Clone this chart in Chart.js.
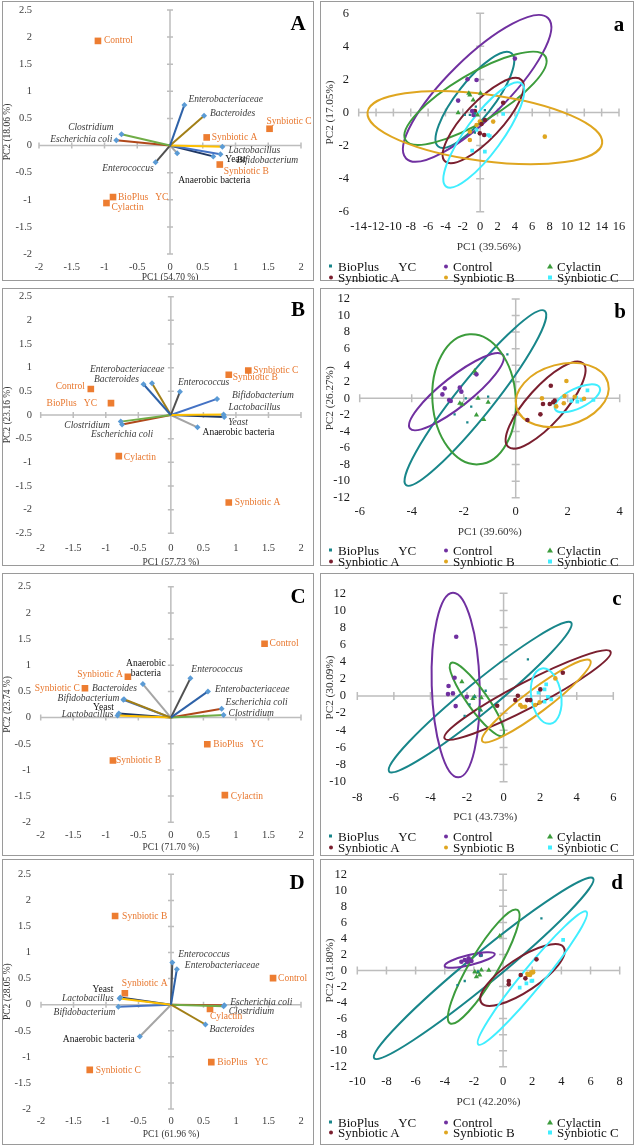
<!DOCTYPE html>
<html>
<head>
<meta charset="utf-8">
<script src="https://cdn.jsdelivr.net/npm/chart.js@4.4.1/dist/chart.umd.min.js"></script>
<style>
  body { margin: 0; background: #fff; }
  #page { position: relative; width: 636px; height: 1147px; overflow: hidden; font-family: "Liberation Serif", serif; }
  canvas, .frame, .tag, .leg { position: absolute; }
  .frame { border: 1px solid #9a9a9a; box-sizing: border-box; pointer-events: none; }
  .tag { font-weight: bold; font-size: 21px; line-height: 1; transform: translate(-50%, -50%); }
  .leg { font-size: 13px; line-height: 1; white-space: pre; transform: translateY(-50%); color: #111; }
  .mk { position: absolute; top: 50%; }
</style>
</head>
<body>
<div id="page"></div>
<script>
// loading variables and treatments
const variables = ["Enterobacteriaceae", "Bacteroides", "Clostridium", "Escherichia coli", "Enterococcus",
  "Lactobacillus", "Bifidobacterium", "Yeast", "Anaerobic bacteria"];
const treatments = ["Control", "BioPlus   YC", "Cylactin", "Synbiotic A", "Synbiotic B", "Synbiotic C"];
const groups = ["BioPlus      YC", "Control", "Cylactin", "Synbiotic A", "Synbiotic B", "Synbiotic C"];

// biplot tick labels
const biplotX = [-2, -1.5, -1, -0.5, 0, 0.5, 1, 1.5, 2];
const biplotY = [-2, -1.5, -1, -0.5, 0, 0.5, 1, 1.5, 2, 2.5];
const biplotYB = [-2.5, -2, -1.5, -1, -0.5, 0, 0.5, 1, 1.5, 2, 2.5];

// loadings (PC1, PC2) in variable order
const loadingsA = [[0.22, 0.75], [0.52, 0.55], [-0.74, 0.21], [-0.82, 0.10], [-0.22, -0.31], [0.80, -0.02], [0.77, -0.16], [0.66, -0.20], [0.11, -0.14]];
const loadingsB = [[-0.42, 0.65], [-0.29, 0.67], [-0.77, -0.14], [-0.75, -0.20], [0.14, 0.49], [0.81, 0.01], [0.71, 0.34], [0.82, -0.04], [0.41, -0.26]];
const loadingsC = [[0.57, 0.50], [-0.72, 0.35], [0.81, 0.05], [0.78, 0.17], [0.30, 0.75], [-0.82, 0.04], [-0.73, 0.34], [-0.80, 0.08], [-0.43, 0.64]];
const loadingsD = [[0.09, 0.68], [0.53, -0.38], [0.81, -0.03], [0.82, -0.01], [0.02, 0.81], [-0.79, 0.12], [-0.81, -0.04], [-0.78, 0.14], [-0.48, -0.61]];

// treatment scores in treatment order
const scoresA = [[-1.10, 1.93], [-0.87, -0.95], [-0.97, -1.06], [0.56, 0.15], [0.76, -0.35], [1.52, 0.31]];
const scoresB = [[-1.23, 0.55], [-0.92, 0.25], [-0.80, -0.87], [0.89, -1.85], [0.89, 0.85], [1.19, 0.94]];
const scoresC = [[1.44, 1.41], [0.56, -0.51], [0.83, -1.48], [-0.66, 0.78], [-0.89, -0.82], [-1.32, 0.56]];
const scoresD = [[1.57, 0.51], [0.62, -1.10], [0.60, -0.08], [-0.71, 0.22], [-0.86, 1.70], [-1.25, -1.25]];

// score plot tick labels
const ticksXa = [-14, -12, -10, -8, -6, -4, -2, 0, 2, 4, 6, 8, 10, 12, 14, 16];
const ticksYa = [-6, -4, -2, 0, 2, 4, 6];
const ticksXb = [-6, -4, -2, 0, 2, 4];
const ticksYb = [-12, -10, -8, -6, -4, -2, 0, 2, 4, 6, 8, 10, 12];
const ticksXc = [-8, -6, -4, -2, 0, 2, 4, 6];
const ticksYc = [-10, -8, -6, -4, -2, 0, 2, 4, 6, 8, 10, 12];
const ticksXd = [-10, -8, -6, -4, -2, 0, 2, 4, 6, 8];
const ticksYd = [-12, -10, -8, -6, -4, -2, 0, 2, 4, 6, 8, 10, 12];

// sample points per group (group order)
const pointsA = [
  [[-0.61, -0.05], [-1.77, -0.15], [-0.5, 0.35], [-1.19, -0.15], [0.54, 0.15], [-0.61, -1.22]],
  [[-1.46, 2.01], [-0.42, 1.97], [-2.54, 0.72], [4.0, 3.26], [-0.92, 0.09], [-0.77, -0.15]],
  [[-1.31, 1.16], [-1.19, 1.06], [-0.81, 0.76], [0.04, 1.16], [-2.54, -0.01], [-0.31, -0.15]],
  [[2.65, 0.59], [0.54, -0.45], [-0.04, -1.26], [0.15, -0.70], [-0.61, 0.09], [0.46, -1.36]],
  [[7.45, -1.46], [-0.04, -0.55], [-1.19, -1.16], [1.5, -0.55], [-0.42, -0.76], [-1.19, -1.66]],
  [[2.65, -0.09], [-0.92, -2.31], [0.54, -2.37], [0.92, -1.36], [1.11, -1.42], [-0.42, -1.06]]
];
const pointsB = [
  [[-0.32, 5.32], [-1.06, 0.2], [-1.71, -1.01], [-1.86, -2.9], [-2.35, -1.93], [-1.92, 0]],
  [[-2.73, 1.21], [-2.82, 0.48], [-2.15, 1.29], [-2.09, 0.81], [-2.5, -0.32], [-1.51, 2.9], [-2.56, -0.2]],
  [[-1.58, 3.3], [-1.55, 3.02], [-2.15, -0.6], [-2.06, -0.72], [-1.45, 0], [-1.06, -0.48], [-1.51, -2.01], [-1.23, -2.54]],
  [[1.35, 1.53], [1.05, -0.68], [1.44, -0.48], [1.31, -0.68], [1.5, -0.28], [0.95, -1.93], [0.45, -2.62]],
  [[1.95, 2.09], [1.01, 0], [1.88, 0.28], [1.85, -0.6], [1.56, -0.97], [2.63, -0.04], [2.27, 0.2]],
  [[2.76, 0.97], [2.37, -0.4], [2.14, -0.32], [2.53, -0.2], [2.33, 0.08], [2.99, -0.2]]
];
const pointsC = [
  [[1.33, 4.28], [-0.98, 0.62], [-1.86, -0.97], [-2.13, -2.3], [-1.28, -1.64], [-1.59, -0.08]],
  [[-2.59, 6.93], [-2.68, 2.14], [-3.01, 1.17], [-3.04, 0.23], [-2.77, 0.31], [-2.62, -1.17], [-2.01, -0.08]],
  [[-2.28, 1.67], [-1.59, -0.08], [-1.68, -0.27], [-1.22, -0.19], [-1.35, -1.44], [-1.26, -1.64]],
  [[3.24, 2.73], [2.01, 0.78], [0.78, 0.04], [0.64, -0.47], [1.29, -0.47], [1.46, -0.47], [-0.35, -1.13]],
  [[2.83, 2.06], [0.91, -1.05], [1.18, -1.25], [1.73, -1.05], [1.97, -0.74], [1.0, -1.25]],
  [[2.33, 1.36], [2.24, 0.78], [1.91, 0.39], [2.42, -0.08], [2.61, -0.39], [2.24, -0.66]]
];
const pointsD = [
  [[2.63, 6.51], [-1.49, 1.85], [-2.63, -1.31], [-3.13, -1.81], [-1.72, -0.15]],
  [[-2.63, 1.31], [-2.45, 1.1], [-2.36, 1.52], [-1.53, 1.93], [-2.86, 1.1], [-2.17, 1.19]],
  [[-0.23, 4.3], [-1.72, -0.23], [-1.49, 0.06], [-1.83, -0.77], [-0.98, 0.02], [-1.94, -0.15], [-1.6, -0.56]],
  [[2.29, 1.39], [1.21, -0.56], [1.53, -0.98], [0.39, -1.31], [0.39, -1.73]],
  [[1.76, -0.48], [1.94, -0.23], [2.06, -0.23], [1.85, -0.56], [1.67, -0.40]],
  [[4.12, 3.81], [1.6, -1.6], [2.01, -1.27], [1.14, -2.14], [1.94, -1.31]]
];

// confidence ellipses: centre, end of major axis, end of minor axis (data units)
const ellipsesA = [
  [-0.61, 0.76, 3.61, 3.58, 1.04, 0.07], [-0.35, 1.46, 7.84, 5.70, 2.07, 0.17], [-0.54, 0.86, 7.53, 3.38, 0.88, -0.39],
  [0.35, -0.49, 4.76, 1.97, 1.88, -1.26], [0.54, -0.92, 14.06, -1.86, 1.04, 1.08], [0.42, -1.36, 4.76, 1.76, 2.11, -2.01]
];
const ellipsesB = [
  [-1.55, 0.04, 1.12, 10.55, -1.0, -1.33], [-2.28, 0.81, -0.49, 5.24, -1.94, -0.64], [-1.60, -0.12, -1.77, 7.73, 0.0, 0.2],
  [1.15, -0.81, 2.59, 4.23, 1.68, -2.30], [1.79, 0.40, 3.55, 1.89, 2.10, -3.18], [2.37, 0.0, 3.23, 1.29, 2.53, -1.09]
];
const ellipsesC = [
  [-1.28, -0.12, 3.70, 8.57, -0.77, -1.48], [-2.62, 1.29, -2.77, 12.07, -1.31, 1.36], [-1.46, -0.39, -0.04, -4.63, -1.02, 0.31],
  [1.31, 0.12, 5.85, 5.18, 1.64, -1.21], [1.79, -0.58, 4.74, 4.13, 2.17, -1.67], [2.33, 0.0, 2.10, 3.23, 3.14, 0.27]
];
const ellipsesD = [
  [-1.33, 0.27, 6.18, 11.5, -0.66, -1.19], [-2.29, 1.31, -0.57, 2.06, -2.22, 0.69], [-1.33, 0.48, 0.98, 7.55, -0.5, -0.40],
  [1.33, -0.56, 4.16, 2.89, 1.97, -2.27], [1.88, -0.35, 2.13, -0.06, 1.81, -0.56], [2.01, -0.94, 5.72, 7.34, 2.58, -1.77]
];

// styles
const vectorColors = ["#2e62a8", "#a27f17", "#70ad47", "#b0481a", "#505050", "#ffc000", "#4472c4", "#1f3864", "#a5a5a5"];
const groupColors = ["#18868a", "#7030a0", "#3c9c3c", "#7a1f2f", "#dfa620", "#40eeff"];
const groupStyles = [["rect", 1.6], ["circle", 2.3], ["triangle", 3], ["circle", 2.3], ["circle", 2.3], ["rect", 2.6]];
const SERIF = '"Liberation Serif", serif';
Chart.defaults.font.family = SERIF;

const page = document.getElementById("page");

function addBox(box) {
  const cv = document.createElement("canvas");
  cv.width = box[2]; cv.height = box[3];
  cv.style.left = box[0] + "px"; cv.style.top = box[1] + "px";
  cv.style.width = box[2] + "px"; cv.style.height = box[3] + "px";
  page.appendChild(cv);
  const fr = document.createElement("div");
  fr.className = "frame";
  Object.assign(fr.style, { left: box[0] + "px", top: box[1] + "px", width: box[2] + "px", height: box[3] + "px" });
  page.appendChild(fr);
  return cv;
}

function addTag(text, x, y) {
  const d = document.createElement("div");
  d.className = "tag"; d.textContent = text;
  d.style.left = x + "px"; d.style.top = y + "px";
  page.appendChild(d);
}

function zeroAxes(xt, yt, tick) {
  return {
    id: "zeroAxes",
    beforeDatasetsDraw(chart) {
      const { ctx, chartArea: a, scales: { x, y } } = chart;
      const x0 = x.getPixelForValue(0), y0 = y.getPixelForValue(0);
      ctx.save();
      ctx.strokeStyle = "#bdbdbd";
      ctx.lineWidth = 1.5;
      ctx.beginPath();
      ctx.moveTo(x0, a.top); ctx.lineTo(x0, a.bottom);
      ctx.moveTo(a.left, y0); ctx.lineTo(a.right, y0);
      xt.forEach(v => { const px = x.getPixelForValue(v); ctx.moveTo(px, y0 - tick); ctx.lineTo(px, y0 + tick); });
      yt.forEach(v => { const py = y.getPixelForValue(v); ctx.moveTo(x0 - tick, py); ctx.lineTo(x0 + tick, py); });
      ctx.stroke();
      ctx.restore();
    }
  };
}

// the gap between labels and plot comes from an invisible tick length, so it does not push the plot area
function axes(p, tickSize, titleSize, tickColor) {
  const W = p.box[2], H = p.box[3];
  const [l, t, r, b] = p.area;
  const lh = titleSize * 1.2;
  return {
    layout: { padding: { left: 0, top: t, right: W - r, bottom: 0 } },
    scales: {
      x: {
        type: "linear", min: p.xTicks[0], max: p.xTicks[p.xTicks.length - 1],
        afterBuildTicks: s => { s.ticks = p.xTicks.map(v => ({ value: v })); },
        afterFit: s => { s.height = H - b; },
        ticks: { callback: v => String(v), font: { size: tickSize }, color: tickColor, padding: 0, maxRotation: 0, autoSkip: false },
        grid: { display: false, drawTicks: true, tickLength: p.xPad }, border: { display: false },
        title: { display: true, text: p.xTitle, font: { size: titleSize }, color: "#333", padding: { top: 0, bottom: H - lh / 2 - p.titleY } }
      },
      y: {
        type: "linear", min: p.yTicks[0], max: p.yTicks[p.yTicks.length - 1],
        afterBuildTicks: s => { s.ticks = p.yTicks.map(v => ({ value: v })); },
        afterFit: s => { s.width = l; },
        ticks: { callback: v => String(v), font: { size: tickSize }, color: tickColor, padding: 0, autoSkip: false },
        grid: { display: false, drawTicks: true, tickLength: p.yPad }, border: { display: false },
        title: { display: true, text: p.yTitle, font: { size: titleSize }, color: "#333", padding: { top: p.yTitleX - lh / 2, bottom: 0 } }
      }
    }
  };
}

function makeBiplot(p) {
  const cv = addBox(p.box);
  const datasets = variables.map((v, i) => ({
    data: [{ x: 0, y: 0 }, { x: p.load[i][0], y: p.load[i][1] }],
    showLine: true, borderColor: vectorColors[i], borderWidth: 2,
    pointRadius: [0, 3], pointStyle: "rectRot",
    pointBackgroundColor: "#5b9bd5", pointBorderColor: "#5b9bd5", pointBorderWidth: 0
  }));
  datasets.push({
    data: treatments.map((n, i) => ({ x: p.scores[i][0], y: p.scores[i][1] })),
    pointStyle: "rect", pointRadius: 4.7, pointBackgroundColor: "#ed7d31", pointBorderWidth: 0
  });
  const labels = {
    id: "labels",
    afterDatasetsDraw(chart) {
      const { ctx, scales: { x, y } } = chart;
      ctx.save();
      ctx.textBaseline = "middle";
      const align = a => a === "l" ? "left" : a === "r" ? "right" : "center";
      variables.forEach((v, i) => {
        const [dx, dy, al] = p.loadOff[i];
        const px = x.getPixelForValue(p.load[i][0]) + dx, py = y.getPixelForValue(p.load[i][1]) + dy;
        const plain = p.plain.includes(i);
        ctx.font = (plain ? "" : "italic ") + "9.5px " + SERIF;
        ctx.fillStyle = plain ? "#111" : "#3a3a3a";
        ctx.textAlign = align(al);
        const lines = (p.wrap && p.wrap[i]) || [v];
        lines.forEach((s, k) => ctx.fillText(s, px, py + k * 10));
      });
      ctx.font = "9.5px " + SERIF;
      ctx.fillStyle = "#e8772e";
      treatments.forEach((n, i) => {
        const [dx, dy, al] = p.scoreOff[i];
        ctx.textAlign = align(al);
        ctx.fillText(n, x.getPixelForValue(p.scores[i][0]) + dx, y.getPixelForValue(p.scores[i][1]) + dy);
      });
      ctx.restore();
    }
  };
  new Chart(cv, {
    type: "scatter",
    data: { datasets },
    options: Object.assign({
      responsive: false, animation: false, devicePixelRatio: 1,
      plugins: { legend: { display: false }, tooltip: { enabled: false } }
    }, axes(p, 10.5, 9.5, "#404040")),
    plugins: [zeroAxes(p.xTicks, p.yTicks, 3), labels]
  });
  addTag(p.tag, p.tagAt[0], p.tagAt[1]);
}

function makeScorePlot(p) {
  const cv = addBox(p.box);
  const datasets = groups.map((g, i) => ({
    data: p.points[i].map(q => ({ x: q[0], y: q[1] })),
    pointStyle: groupStyles[i][0], pointRadius: groupStyles[i][1],
    pointBackgroundColor: groupColors[i], pointBorderColor: groupColors[i], pointBorderWidth: 0
  }));
  const ellipses = {
    id: "ellipses",
    beforeDatasetsDraw(chart) {
      const { ctx, scales: { x, y } } = chart;
      p.ellipses.forEach((e, i) => {
        const cx = x.getPixelForValue(e[0]), cy = y.getPixelForValue(e[1]);
        const ux = x.getPixelForValue(e[2]) - cx, uy = y.getPixelForValue(e[3]) - cy;
        const vx = x.getPixelForValue(e[4]) - cx, vy = y.getPixelForValue(e[5]) - cy;
        ctx.save();
        ctx.beginPath();
        ctx.transform(ux, uy, vx, vy, cx, cy);
        ctx.arc(0, 0, 1, 0, Math.PI * 2);
        ctx.restore();
        ctx.save();
        ctx.strokeStyle = groupColors[i];
        ctx.lineWidth = 2;
        ctx.stroke();
        ctx.restore();
      });
    }
  };
  new Chart(cv, {
    type: "scatter",
    data: { datasets },
    options: Object.assign({
      responsive: false, animation: false, devicePixelRatio: 1,
      plugins: { legend: { display: false }, tooltip: { enabled: false } }
    }, axes(p, 12.5, 11.2, "#1a1a1a")),
    plugins: [zeroAxes(p.xTicks, p.yTicks, 4), ellipses]
  });
  addTag(p.tag, p.tagAt[0], p.tagAt[1]);
  // legend, three columns by two rows
  const cols = [331, 446, 550];
  groups.forEach((g, i) => {
    const d = document.createElement("div");
    d.className = "leg";
    d.textContent = g;
    d.style.left = (cols[i % 3] + 7) + "px";
    d.style.top = p.legendRows[Math.floor(i / 3)] + "px";
    const m = document.createElement("span");
    m.className = "mk";
    const c = groupColors[i];
    const st = groupStyles[i][0];
    if (st === "triangle") {
      Object.assign(m.style, { left: "-10px", marginTop: "-3px", width: 0, height: 0, borderLeft: "3px solid transparent", borderRight: "3px solid transparent", borderBottom: "5px solid " + c });
    } else if (st === "circle") {
      Object.assign(m.style, { left: "-9px", marginTop: "-2px", width: "4px", height: "4px", borderRadius: "50%", background: c });
    } else {
      const s = groupStyles[i][1] > 2 ? 4 : 3;
      Object.assign(m.style, { left: "-9px", marginTop: (-s / 2) + "px", width: s + "px", height: s + "px", background: c });
    }
    d.appendChild(m);
    page.appendChild(d);
  });
}

// left column: biplots
makeBiplot({
  tag: "A", tagAt: [298, 23], box: [2, 1, 312, 280], area: [37, 9, 299, 253],
  xPad: 6.7, yPad: 7, titleY: 276, yTitleX: 5,
  xTitle: "PC1 (54.70 %)", yTitle: "PC2 (18.06 %)", xTicks: biplotX, yTicks: biplotY,
  load: loadingsA, scores: scoresA, plain: [7, 8],
  loadOff: [[4, -5, "l"], [6, -2, "l"], [-8, -7, "r"], [-4, -1, "r"], [-2, 6, "r"], [6, 4, "l"], [16, 6, "l"], [12, 3, "l"], [1, 27, "l"]],
  scoreOff: [[6, 0, "l"], [5, 0, "l"], [5, 4, "l"], [5, 0, "l"], [4, 7, "l"], [-3, -7, "l"]]
});
makeBiplot({
  tag: "B", tagAt: [298, 309], box: [2, 288, 312, 278], area: [38.7, 8.7, 299, 245.3],
  xPad: 8.4, yPad: 8.7, titleY: 274, yTitleX: 5,
  xTitle: "PC1 (57.73 %)", yTitle: "PC2 (23.16 %)", xTicks: biplotX, yTicks: biplotYB,
  load: loadingsB, scores: scoresB, plain: [8],
  loadOff: [[21, -15, "r"], [-13, -4, "r"], [-11, 4, "r"], [31, 10, "r"], [-2, -9, "l"], [5, -7, "l"], [15, -3, "l"], [4, 6, "l"], [5, 5, "l"]],
  scoreOff: [[-6, -2, "r"], [-14, 0, "r"], [5, 1, "l"], [6, 0, "l"], [4, 3, "l"], [5, 0, "l"]]
});
makeBiplot({
  tag: "C", tagAt: [298, 596], box: [2, 573, 312, 283], area: [38.7, 13.7, 299, 249.3],
  xPad: 6.4, yPad: 9.7, titleY: 274, yTitleX: 5,
  xTitle: "PC1 (71.70 %)", yTitle: "PC2 (23.74 %)", xTicks: biplotX, yTicks: biplotY,
  load: loadingsC, scores: scoresC, plain: [7, 8], wrap: { 8: ["Anaerobic", "bacteria"] },
  loadOff: [[7, -2, "l"], [13, -11, "r"], [5, -1, "l"], [4, -6, "l"], [1, -9, "l"], [-4, -1, "r"], [-4, -1, "r"], [-5, -6, "r"], [3, -21, "c"]],
  scoreOff: [[5, 0, "l"], [6, 0, "l"], [6, 1, "l"], [-5, -2, "r"], [3, 0, "l"], [-5, 0, "r"]]
});
makeBiplot({
  tag: "D", tagAt: [297, 882], box: [2, 859, 312, 286], area: [39, 15.3, 299, 250],
  xPad: 5.7, yPad: 10, titleY: 275, yTitleX: 5,
  xTitle: "PC1 (61.96 %)", yTitle: "PC2 (28.05 %)", xTicks: biplotX, yTicks: biplotY,
  load: loadingsD, scores: scoresD, plain: [7, 8],
  loadOff: [[8, -4, "l"], [4, 5, "l"], [5, 5, "l"], [6, -3, "l"], [6, -8, "l"], [-6, 0, "r"], [-3, 6, "r"], [-7, -8, "r"], [-5, 3, "r"]],
  scoreOff: [[5, 0, "l"], [6, 0, "l"], [0, 8, "l"], [-3, -10, "l"], [7, 0, "l"], [6, 1, "l"]]
});

// right column: score plots with ellipses
makeScorePlot({
  tag: "a", tagAt: [619, 24], box: [320, 1, 314, 280], area: [38.7, 12.3, 299, 210.7],
  xPad: 7.8, yPad: 9.7, titleY: 246, yTitleX: 10, legendRows: [266, 277],
  xTitle: "PC1 (39.56%)", yTitle: "PC2 (17.05%)", xTicks: ticksXa, yTicks: ticksYa,
  points: pointsA, ellipses: ellipsesA
});
makeScorePlot({
  tag: "b", tagAt: [620, 311], box: [320, 288, 314, 278], area: [39.7, 11, 299.7, 209.7],
  xPad: 6.8, yPad: 9.7, titleY: 244, yTitleX: 10, legendRows: [550, 561],
  xTitle: "PC1 (39.60%)", yTitle: "PC2 (26.27%)", xTicks: ticksXb, yTicks: ticksYb,
  points: pointsB, ellipses: ellipsesB
});
makeScorePlot({
  tag: "c", tagAt: [617, 598], box: [320, 573, 314, 283], area: [37.3, 20.3, 293.3, 208.7],
  xPad: 8.8, yPad: 11.3, titleY: 244, yTitleX: 10, legendRows: [836, 847],
  xTitle: "PC1 (43.73%)", yTitle: "PC2 (30.09%)", xTicks: ticksXc, yTicks: ticksYc,
  points: pointsC, ellipses: ellipsesC
});
makeScorePlot({
  tag: "d", tagAt: [617, 882], box: [320, 859, 314, 286], area: [37.3, 15.3, 299.7, 207.7],
  xPad: 7.8, yPad: 10.3, titleY: 243, yTitleX: 10, legendRows: [1122, 1132],
  xTitle: "PC1 (42.20%)", yTitle: "PC2 (31.80%)", xTicks: ticksXd, yTicks: ticksYd,
  points: pointsD, ellipses: ellipsesD
});
</script>
</body>
</html>
